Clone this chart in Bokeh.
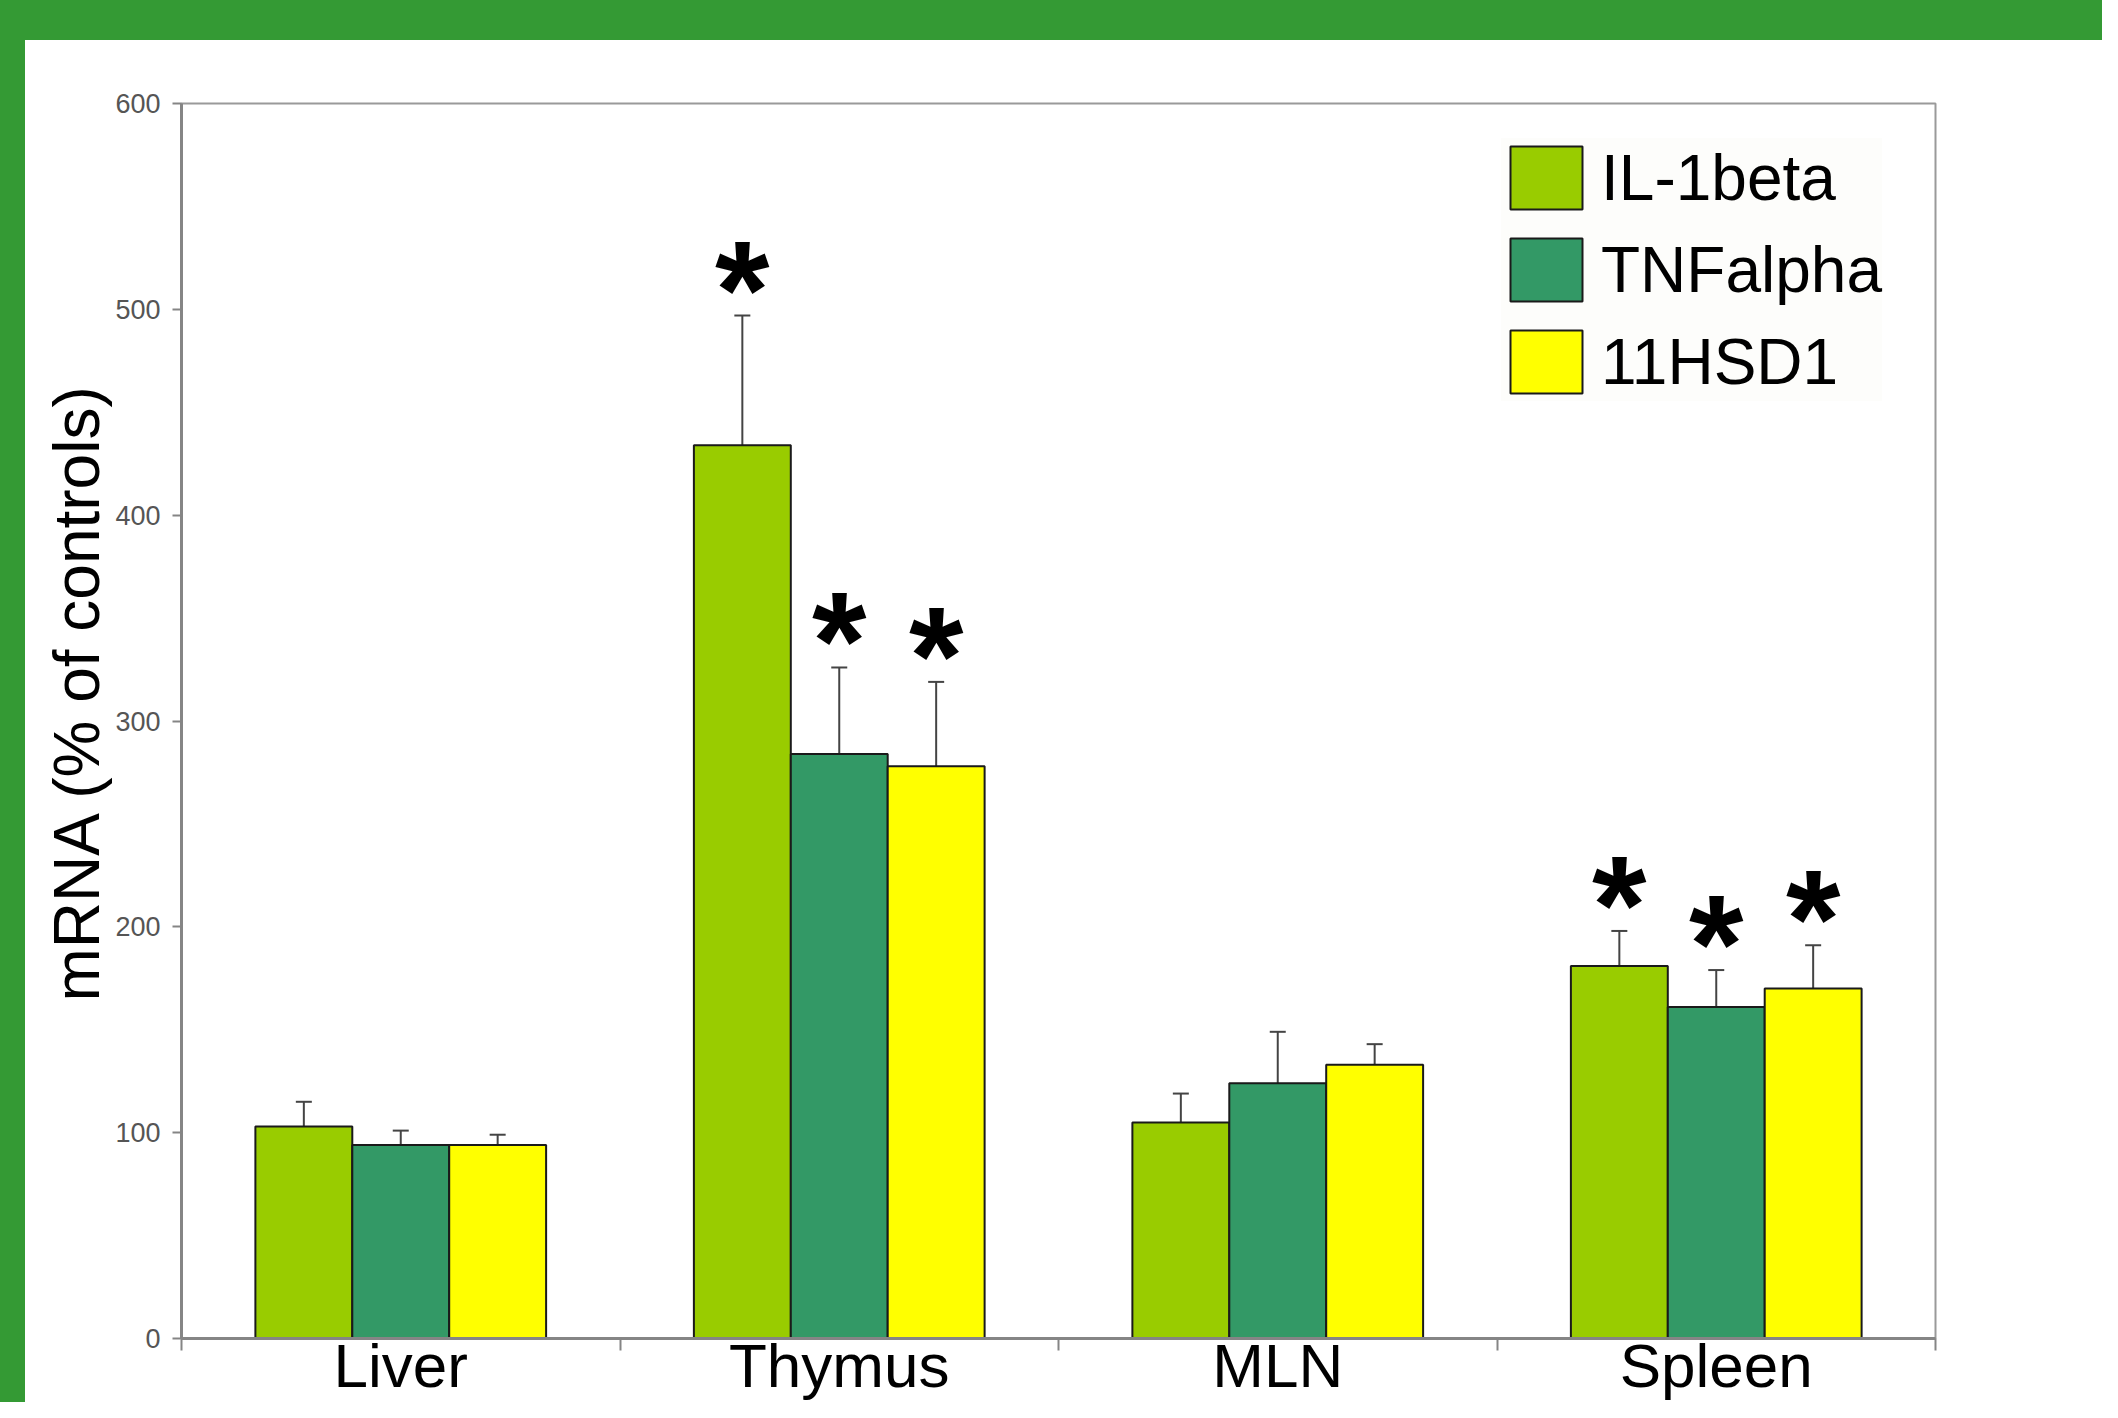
import numpy as np
from bokeh.plotting import figure
from bokeh.models import (ColumnDataSource, FixedTicker, Whisker, TeeHead, LabelSet, Title,
                          Legend, LegendItem, Spacer, Range1d)
from bokeh.layouts import column, row
from bokeh.core.properties import value
from bokeh.embed import file_html
from bokeh.resources import INLINE

# ---------------- data ----------------
categories = ["Liver", "Thymus", "MLN", "Spleen"]
series_names = ["IL-1beta", "TNFalpha", "11HSD1"]

il1beta = [103, 434, 105, 181]
il1beta_err = [12, 63, 14, 17]
il1beta_sig = [False, True, False, True]

tnfalpha = [94, 284, 124, 161]
tnfalpha_err = [7, 42, 25, 18]
tnfalpha_sig = [False, True, False, True]

hsd1 = [94, 278, 133, 170]
hsd1_err = [5, 41, 10, 21]
hsd1_sig = [False, True, False, True]

y_ticks = [0, 100, 200, 300, 400, 500, 600]
y_title = "mRNA (% of controls)"

# ---------------- styling ----------------
FONT = "Liberation Sans"
GREEN = "#349a34"
series_colors = ["#99cc00", "#339966", "#ffff00"]
AXIS_GRAY = "#858585"

p = figure(width=2077, height=1362,
           x_range=Range1d(0, len(categories)), y_range=Range1d(0, 600),
           output_backend="svg", toolbar_location=None,
           min_border_left=156, min_border_right=167,
           min_border_top=63, min_border_bottom=60)
p.xgrid.visible = False
p.ygrid.visible = False
p.outline_line_color = "#9a9a9a"
p.outline_line_width = 2
p.background_fill_color = "white"
p.border_fill_color = "white"

centers = np.arange(len(categories)) + 0.5
bar_w = 0.221
offsets = [-bar_w, 0.0, bar_w]

all_vals = [il1beta, tnfalpha, hsd1]
all_errs = [il1beta_err, tnfalpha_err, hsd1_err]
all_sig = [il1beta_sig, tnfalpha_sig, hsd1_sig]

legend_items = []
for name, vals, errs, sig, color, off in zip(series_names, all_vals, all_errs,
                                              all_sig, series_colors, offsets):
    vals_a = np.array(vals, dtype=float)
    errs_a = np.array(errs, dtype=float)
    src = ColumnDataSource(dict(x=centers + off, top=vals_a, upper=vals_a + errs_a))
    r = p.vbar(x="x", top="top", bottom=0, width=bar_w, source=src,
               fill_color=color, line_color="#1a1a1a", line_width=2)
    w = Whisker(base="x", lower="top", upper="upper", source=src, dimension="height",
                lower_head=None,
                upper_head=TeeHead(size=16, line_color="#444444", line_width=2),
                line_color="#444444", line_width=2)
    p.add_layout(w)
    mask = np.array(sig)
    sig_src = ColumnDataSource(dict(x=(centers + off)[mask], y=(vals_a + errs_a)[mask],
                                    t=["*"] * int(mask.sum())))
    stars = LabelSet(x="x", y="y", text="t", source=sig_src,
                     text_font=value(FONT), text_font_style="bold",
                     text_font_size="140px", text_color="black",
                     text_align="center", text_baseline="alphabetic", y_offset=-22)
    p.add_layout(stars)
    legend_items.append(LegendItem(label=name, renderers=[r]))

# x axis: labels at group centres, ticks at group boundaries
xa = p.xaxis[0]
xa.ticker = FixedTicker(ticks=list(centers), minor_ticks=list(range(len(categories) + 1)))
xa.major_label_overrides = {float(c): n for c, n in zip(centers, categories)}
xa.major_tick_out = 0
xa.major_tick_in = 0
xa.minor_tick_out = 12
xa.minor_tick_in = 0
xa.minor_tick_line_color = AXIS_GRAY
xa.minor_tick_line_width = 2
xa.axis_line_color = AXIS_GRAY
xa.axis_line_width = 3
xa.major_label_text_font = FONT
xa.major_label_text_font_size = "62px"
xa.major_label_text_line_height = 1.0
xa.major_label_text_color = "black"
xa.major_label_standoff = -20

ya = p.yaxis[0]
ya.ticker = FixedTicker(ticks=y_ticks)
ya.minor_tick_out = 0
ya.minor_tick_in = 0
ya.major_tick_out = 9
ya.major_tick_in = 0
ya.major_tick_line_color = AXIS_GRAY
ya.major_tick_line_width = 2
ya.axis_line_color = AXIS_GRAY
ya.axis_line_width = 3
ya.major_label_text_font = FONT
ya.major_label_text_font_size = "27px"
ya.major_label_text_color = "#555555"
ya.major_label_standoff = 12

# y-axis title as a left-side title, shifted a little above the frame centre
ytitle = Title(text=y_title, align="left", offset=337, standoff=0,
               text_font=FONT, text_font_size="64px", text_font_style="normal",
               text_color="black")
p.add_layout(ytitle, "left")

legend = Legend(items=legend_items, location=(1320, 937),
                glyph_width=90, glyph_height=79,
                label_text_font=FONT, label_text_font_size="64px",
                label_text_color="black",
                spacing=13, padding=10, label_standoff=10, margin=0,
                border_line_color=None,
                background_fill_color="#fdfdfb", background_fill_alpha=1.0)
p.add_layout(legend)

top_band = Spacer(width=2102, height=40, styles={"background-color": GREEN})
left_band = Spacer(width=25, height=1362, styles={"background-color": GREEN})
layout = column(top_band, row(left_band, p, spacing=0), spacing=0)

open("out.html", "w").write(file_html(layout, INLINE))
